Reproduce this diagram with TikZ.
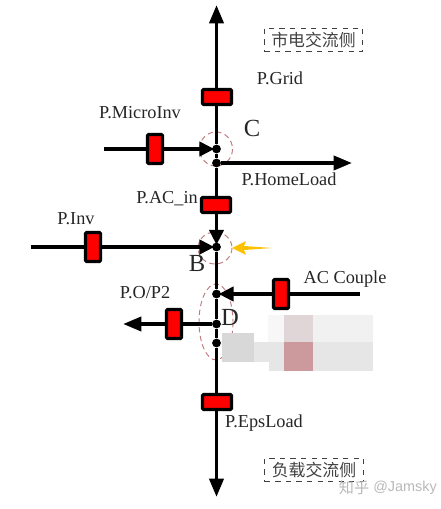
\documentclass[tikz,border=0pt]{standalone}
\usepackage{fontspec}
\setmainfont{Liberation Serif}
\newfontfamily\cjk{Noto Sans CJK SC}
\newfontfamily\marksans{Liberation Sans}
\usetikzlibrary{arrows.meta}
\definecolor{ringred}{HTML}{C07C80}
\definecolor{flowyellow}{HTML}{FFC000}
\definecolor{sidegray}{HTML}{404040}
\definecolor{blurrose}{HTML}{CC9A9C}
\definecolor{blurpale}{HTML}{E0D6D8}
\definecolor{blurgray}{HTML}{D8D8D8}
\definecolor{blurmid}{HTML}{E6E6E6}
\definecolor{blurlight}{HTML}{F1F1F1}
\tikzset{
    wire/.style={line width=2.2pt},
    tipbig/.style={-{Triangle[length=10.5pt,width=8pt]}},
    tipin/.style={-{Triangle[length=8.5pt,width=8pt]}, shorten >=-1.5pt},
    hbreaker/.style={draw=black, fill=red, line width=1.8pt, rounded corners=0.6pt, inner sep=0pt, minimum width=16.5pt, minimum height=8.6pt},
    vbreaker/.style={draw=black, fill=red, line width=1.8pt, rounded corners=0.6pt, inner sep=0pt, minimum width=8.6pt, minimum height=16.5pt},
    junction/.style={circle, fill=black, inner sep=0pt, minimum size=5pt},
    ring/.style={draw=ringred, densely dashed, line width=0.55pt},
    lbl/.style={font=\fontsize{10.4}{12}\selectfont, text=black!85, inner sep=0pt},
    letter/.style={font=\fontsize{14}{16}\selectfont, text=black!85, inner sep=0pt},
    sidebox/.style={draw=sidegray, dashed, line width=0.6pt, text=sidegray, font=\cjk\fontsize{9.6}{12}\selectfont, inner sep=0pt, minimum width=56pt, minimum height=13.6pt}
}

\begin{document}
\begin{tikzpicture}[x=0.02cm, y=-0.02cm]

    \useasboundingbox (0,0) rectangle (440,509);

    \coordinate (topEnd) at (216.5, 5);
    \coordinate (botEnd) at (216.5, 497);
    \coordinate (microStart) at (104, 149);
    \coordinate (homeEnd) at (352, 163);
    \coordinate (invStart) at (31, 247);
    \coordinate (coupleStart) at (360, 294);
    \coordinate (opEnd) at (123, 324);

    \draw[ring] (216, 149) ellipse (16.5 and 17);
    \draw[ring] (215, 248) ellipse (17 and 16);
    \draw[ring] (216, 322) ellipse (17 and 38);

    \node[vbreaker] (brkMicro) at (155, 149) {};
    \node[hbreaker] (brkGrid) at (217, 97) {};
    \node[hbreaker] (brkAC) at (216, 205) {};
    \node[vbreaker] (brkInv) at (93, 247) {};
    \node[vbreaker] (brkCouple) at (281, 294) {};
    \node[vbreaker] (brkOP) at (174, 324) {};
    \node[hbreaker] (brkEps) at (217, 402) {};

    \node[junction] (dotC) at (216.5, 149) {};
    \node[junction] (dotHome) at (216.5, 163) {};
    \node[junction] (dotB) at (216.5, 247) {};
    \node[junction] (dotCouple) at (216.5, 294) {};
    \node[junction] (dotOP) at (216.5, 324) {};
    \node[junction] (dotLow) at (216.5, 343) {};

    \draw[wire, tipbig] (brkGrid.north -| topEnd) -- (topEnd);
    \draw[wire] (brkGrid.south -| topEnd) -- (dotC);
    \draw[wire] (dotC) -- (dotHome);
    \draw[wire] (dotHome) -- (brkAC.north -| dotHome);
    \draw[wire, tipin] (brkAC.south -| dotB) -- (dotB);
    \draw[wire] (dotB) -- (dotCouple);
    \draw[wire] (dotCouple) -- (dotOP);
    \draw[wire] (dotOP) -- (dotLow);
    \draw[wire] (dotLow) -- (brkEps.north -| dotLow);
    \draw[wire, tipbig] (brkEps.south -| botEnd) -- (botEnd);

    \draw[wire] (microStart) -- (brkMicro);
    \draw[wire, tipin] (brkMicro) -- (dotC);
    \draw[wire, tipbig] (dotHome) -- (homeEnd);
    \draw[wire] (invStart) -- (brkInv);
    \draw[wire, tipin] (brkInv) -- (dotB);
    \draw[wire] (coupleStart) -- (brkCouple);
    \draw[wire, tipin] (brkCouple) -- (dotCouple);
    \draw[wire] (dotOP) -- (brkOP);
    \draw[wire, tipbig] (brkOP) -- (opEnd);

    \fill[flowyellow] (232, 248) -- (246, 241) -- (244, 246) -- (272, 248) -- (244, 250) -- (246, 255) -- cycle;

    \fill[black!3] (268, 315) rectangle (284, 342);
    \fill[blurpale] (284, 315) rectangle (313, 342);
    \fill[blurlight] (313, 315) rectangle (373, 342);
    \fill[blurgray] (222, 333) rectangle (254, 362);
    \fill[blurmid] (254, 342) rectangle (284, 362);
    \fill[blurmid] (269, 362) rectangle (284, 371);
    \fill[blurmid] (313, 342) rectangle (373, 371);
    \fill[blurrose] (284, 342) rectangle (313, 371);

    \node[lbl] (lblGrid) at (280, 78) {P.Grid};
    \node[lbl] (lblMicro) at (140, 113) {P.MicroInv};
    \node[lbl] (lblHome) at (289, 179) {P.HomeLoad};
    \node[lbl] (lblAC) at (167, 199) {P.AC\_in};
    \node[lbl] (lblInv) at (76, 219) {P.Inv};
    \node[lbl] (lblCouple) at (345, 279) {AC Couple};
    \node[lbl] (lblOP) at (145, 293) {P.O/P2};
    \node[lbl] (lblEps) at (264, 423) {P.EpsLoad};

    \node[letter] (lblC) at (252, 128) {C};
    \node[letter] (lblB) at (197, 263) {B};
    \node[letter] (lblD) at (230, 317) {D};

    \node[sidebox] (boxGrid) at (313.5, 40) {市电交流侧};
    \node[sidebox] (boxLoad) at (314, 470) {负载交流侧};

    \node[text=black!28, inner sep=0pt, font=\cjk\fontsize{8.6}{10}\selectfont] (markCN) at (354, 488) {知乎};
    \node[text=black!28, inner sep=0pt, font=\marksans\fontsize{8.2}{10}\selectfont, anchor=west] (markEN) at (373, 488) {@Jamsky};

\end{tikzpicture}
\end{document}
